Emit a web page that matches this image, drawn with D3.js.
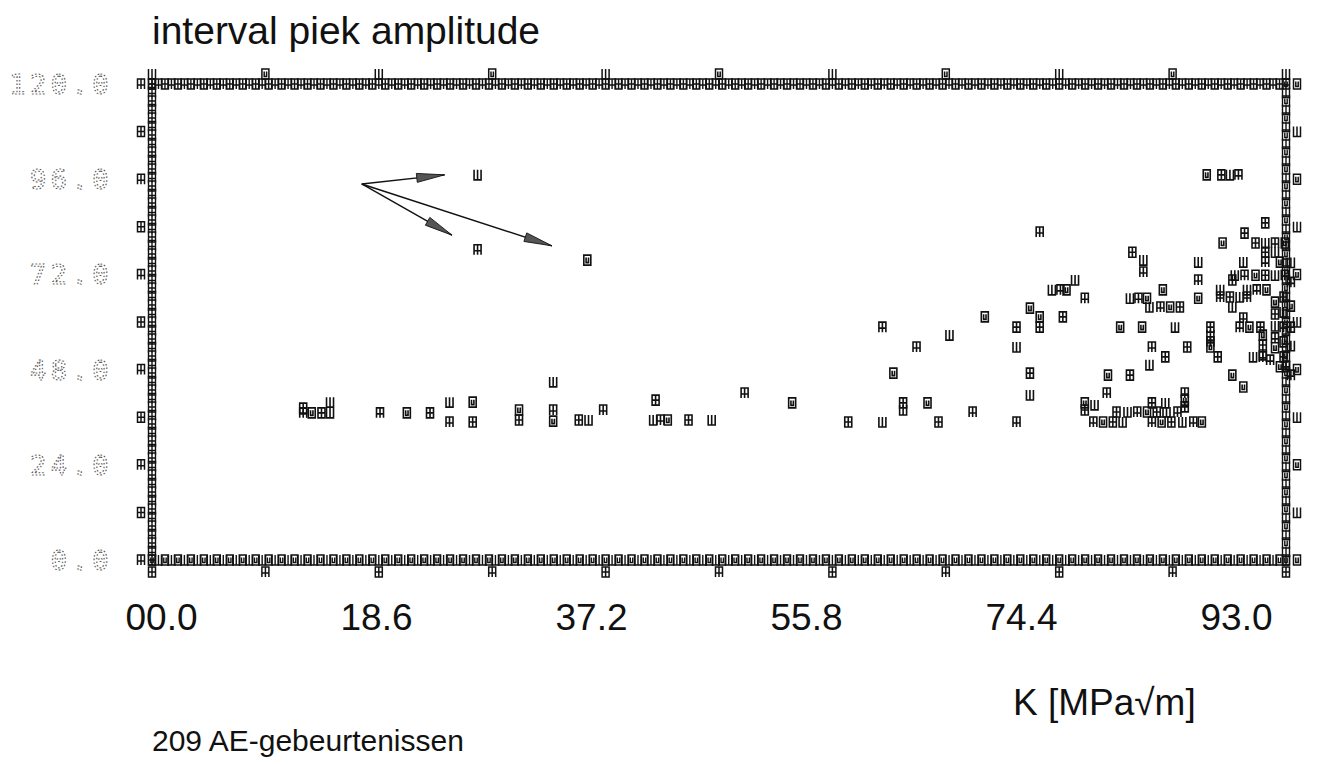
<!DOCTYPE html>
<html>
<head>
<meta charset="utf-8">
<script src="https://cdn.jsdelivr.net/npm/d3@7"></script>
<style>
  body { margin: 0; background: #fff; }
  svg { display: block; }
  .title, .xlab text, .caption, .unit { font-family: 'Liberation Sans', Arial, sans-serif; fill: #111; }
  .ylab text { font-family: 'DejaVu Sans Mono', monospace; fill: none; stroke: #555; stroke-width: 1.1; stroke-dasharray: 1.6 2; }
</style>
</head>
<body>
<div id="chart"></div>
<script>
// K values (MPa√m) and interval peak amplitudes
const kValues = [
  12.4, 14.6, 12.4, 13.1, 13.9, 14.6, 18.7, 20.9, 22.8, 24.4, 24.4, 26.3, 26.3,
  26.7, 26.7, 30.1, 30.1, 32.9, 32.9, 32.9, 35.0, 35.8, 37.0, 35.7,
  41.3, 41.1, 41.7, 42.3, 44.0, 45.9, 48.6, 52.5, 57.1, 59.9,
  59.9, 60.8, 61.6, 61.6, 62.7, 63.6, 64.5, 65.4, 67.3, 68.3, 70.9, 70.9, 70.9,
  72.0, 72.0, 72.0, 72.8, 72.8, 72.8, 73.8, 74.5, 75.0, 74.7, 75.7, 76.5,
  76.5, 76.5, 77.3, 77.2, 78.0, 78.8, 79.6, 78.3, 78.4,
  79.1, 80.0, 80.8, 81.6, 82.4, 83.2, 84.1,
  79.4, 80.2, 80.2, 80.9, 81.6, 80.4, 81.3, 81.3, 81.2,
  82.0, 83.1, 82.0, 82.8, 83.6, 81.8, 82.7, 83.5, 84.3,
  81.8, 82.0, 82.9, 83.1, 83.9, 84.7, 84.7, 84.7, 84.5, 85.4, 86.1,
  84.9, 85.8, 85.8, 85.8, 86.8, 86.8, 86.8, 86.8,
  87.4, 87.6, 87.6, 87.8, 88.4, 89.2, 89.8, 88.6, 88.6, 88.6,
  89.2, 90.0, 90.9, 89.5, 89.5, 89.5, 89.6, 89.8, 90.6, 91.4,
  90.5, 91.3, 92.1, 92.9, 91.3, 92.1, 91.3, 92.5, 91.3,
  88.8, 89.6, 90.5, 91.3, 92.1, 92.9,
  91.1, 91.1, 91.1, 91.7, 92.5, 93.0, 90.3, 91.1,
  86.5, 87.7, 88.4, 89.1,
  92.1, 92.1, 92.1, 92.1, 92.1, 92.8, 92.8, 92.8, 92.8, 92.8,
  93.4, 93.4, 93.4, 93.4, 93.4, 93.4
];
const ampValues = [
  38.3, 39.8, 37.1, 37.1, 37.1, 37.1, 37.1, 37.1, 37.1, 39.8, 34.8, 39.8, 34.8,
  97.1, 78.2, 37.8, 35.3, 44.9, 37.8, 35.0, 35.3, 35.3, 37.8, 75.6,
  40.3, 35.3, 35.3, 35.3, 35.3, 35.3, 42.1, 39.6, 34.8, 34.8,
  58.7, 47.1, 39.6, 37.8, 53.7, 39.6, 34.8, 56.7, 37.3, 61.3, 58.7, 53.7, 34.8,
  63.5, 47.1, 41.6, 82.7, 61.3, 58.7, 68.1, 68.1, 68.1, 61.3, 70.6, 66.0,
  39.6, 37.8, 39.1, 34.8, 34.8, 34.8, 34.8, 42.1, 46.6,
  37.3, 37.3, 37.3, 37.3, 37.3, 37.3, 37.3,
  58.7, 46.6, 66.0, 66.0, 66.0, 77.6, 75.6, 72.6, 58.7,
  39.6, 39.6, 34.8, 34.8, 34.8, 63.8, 63.8, 63.8, 63.8,
  49.2, 53.7, 68.1, 51.2, 58.7, 42.1, 40.3, 38.6, 34.8, 34.8, 34.8,
  53.7, 75.1, 70.6, 66.0, 58.7, 56.7, 55.0, 53.7,
  51.2, 68.1, 66.3, 79.9, 66.3, 66.3, 66.3, 46.6, 70.6, 63.8,
  58.7, 58.7, 58.7, 75.1, 61.0, 43.6, 82.4, 68.1, 68.1, 68.1,
  79.9, 79.9, 79.9, 79.9, 77.6, 77.6, 75.1, 75.1, 85.0,
  71.8, 71.8, 71.8, 71.8, 71.8, 71.8,
  56.7, 54.2, 51.7, 50.4, 48.7, 48.7, 51.2, 51.2,
  97.1, 97.1, 97.1, 97.1,
  65.0, 62.0, 59.0, 56.0, 53.5, 66.3, 62.5, 58.7, 55.0, 51.2,
  75.0, 70.0, 64.0, 58.7, 54.0, 46.6
];

const xTicks = [0, 18.6, 37.2, 55.8, 74.4, 93.0];
const yTicks = [0, 24, 48, 72, 96, 120];

// annotation arrows: one tail, three heads (data units)
const arrowTail = [17.2, 94.8];
const arrowHeads = [[24.0, 97.1], [24.6, 81.9], [32.8, 79.2]];

const titleText = 'interval piek amplitude';
const unitText = 'K [MPa\u221Am]';
const captionText = '209 AE-gebeurtenissen';

// small plotter glyphs used for every mark
const glyphs = [
  'M-3.5,-5h7v10h-7zM0,-5v10M-3.5,0h7',
  'M-3.5,-5v10h7v-10M0,-5v10',
  'M-3.5,5v-10h7v10M0,-5v10M-3.5,1h7',
  'M-3.5,-5h7v10h-7zM-1.2,-2.5v5h2.4v-5',
];

function drawChart() {
  const totalWidth = 1329;
  const totalHeight = 765;

  let x = d3.scaleLinear().domain([0, 93]).range([152, 1286]);
  let y = d3.scaleLinear().domain([0, 120]).range([560, 84]);
  // the printed K labels sit a little inside the plotted ticks
  let xLabel = d3.scaleLinear().domain([0, 93]).range([161, 1236]);

  let svg = d3.select('#chart').append('svg')
      .attr('width', totalWidth)
      .attr('height', totalHeight)
      .attr('viewBox', '0 0 ' + totalWidth + ' ' + totalHeight);

  svg.append('text')
      .attr('class', 'title')
      .attr('x', 152)
      .attr('y', 44)
      .attr('font-size', 39)
      .text(titleText);

  // frame: built from dense glyphs along the four edges
  let edge = [];
  d3.range(0, 93.01, 93 / 175).forEach(function(v) {
    edge.push({k: v, a: 120}, {k: v, a: 0});
  });
  d3.range(0, 120.01, 120 / 56).forEach(function(v) {
    edge.push({k: 0, a: v}, {k: 93, a: v});
  });

  svg.append('g')
      .attr('class', 'frame')
    .selectAll('path')
    .data(edge)
    .enter().append('path')
      .attr('d', function(d, i) {
        return glyphs[(i * 7) % glyphs.length];
      })
      .attr('transform', function(d) {
        return 'translate(' + x(d.k) + ',' + y(d.a) + ')';
      })
      .attr('fill', 'none')
      .attr('stroke', '#111')
      .attr('stroke-width', 1.4);

  // tick glyphs just outside the frame
  let ticks = [];
  d3.range(0, 93.01, 9.3).forEach(function(v) {
    ticks.push({k: v, a: 0, dx: 0, dy: 12}, {k: v, a: 120, dx: 0, dy: -10});
  });
  d3.range(0, 120.01, 12).forEach(function(v) {
    ticks.push({k: 0, a: v, dx: -11, dy: 0}, {k: 93, a: v, dx: 11, dy: 0});
  });

  svg.append('g')
      .attr('class', 'ticks')
    .selectAll('path')
    .data(ticks)
    .enter().append('path')
      .attr('d', function(d, i) {
        return glyphs[i % glyphs.length];
      })
      .attr('transform', function(d) {
        return 'translate(' + (x(d.k) + d.dx) + ',' + (y(d.a) + d.dy) + ')';
      })
      .attr('fill', 'none')
      .attr('stroke', '#111')
      .attr('stroke-width', 1.5);

  // events
  let points = kValues.map(function(k, i) {
    return {k: k, a: ampValues[i]};
  });

  svg.append('g')
      .attr('class', 'points')
    .selectAll('path')
    .data(points)
    .enter().append('path')
      .attr('d', function(d, i) {
        return glyphs[i % glyphs.length];
      })
      .attr('transform', function(d) {
        return 'translate(' + x(d.k) + ',' + y(d.a) + ')';
      })
      .attr('fill', 'none')
      .attr('stroke', '#111')
      .attr('stroke-width', 1.6);

  // arrows
  let tx = x(arrowTail[0]);
  let ty = y(arrowTail[1]);
  let ag = svg.append('g').attr('class', 'arrows');

  ag.selectAll('line')
    .data(arrowHeads)
    .enter().append('line')
      .attr('x1', tx)
      .attr('y1', ty)
      .attr('x2', function(d) { return x(d[0]); })
      .attr('y2', function(d) { return y(d[1]); })
      .attr('stroke', '#111')
      .attr('stroke-width', 1.4);

  ag.selectAll('path')
    .data(arrowHeads)
    .enter().append('path')
      .attr('d', function(d) {
        let hx = x(d[0]);
        let hy = y(d[1]);
        let len = Math.hypot(hx - tx, hy - ty);
        let ux = (hx - tx) / len;
        let uy = (hy - ty) / len;
        let bx = hx - ux * 28;
        let by = hy - uy * 28;
        return 'M' + hx + ',' + hy +
          'L' + (bx - uy * 4.5) + ',' + (by + ux * 4.5) +
          'L' + (bx + uy * 4.5) + ',' + (by - ux * 4.5) + 'Z';
      })
      .attr('fill', '#555')
      .attr('stroke', '#111')
      .attr('stroke-width', 0.9);

  // y labels, dotted plotter digits
  let yAxis = d3.axisLeft(y)
      .tickValues(yTicks)
      .tickSize(0)
      .tickPadding(0)
      .tickFormat(d3.format('.1f'));

  let gy = svg.append('g')
      .attr('class', 'ylab')
      .attr('transform', 'translate(113,0)')
      .call(yAxis);
  gy.select('.domain').remove();
  gy.selectAll('text')
      .attr('font-size', 27)
      .attr('letter-spacing', 4.5)
      .attr('dy', '0.35em');

  // x labels
  let xAxis = d3.axisBottom(xLabel)
      .tickValues(xTicks)
      .tickSize(0)
      .tickFormat(d3.format('04.1f'));

  let gx = svg.append('g')
      .attr('class', 'xlab')
      .attr('transform', 'translate(0,630)')
      .call(xAxis);
  gx.select('.domain').remove();
  gx.selectAll('text')
      .attr('y', 0)
      .attr('dy', null)
      .attr('font-size', 37)
      .attr('fill', '#111');

  svg.append('text')
      .attr('class', 'unit')
      .attr('x', 1013)
      .attr('y', 715)
      .attr('font-size', 37)
      .text(unitText);

  svg.append('text')
      .attr('class', 'caption')
      .attr('x', 152)
      .attr('y', 751)
      .attr('font-size', 30)
      .text(captionText);
}

drawChart();
</script>
</body>
</html>
